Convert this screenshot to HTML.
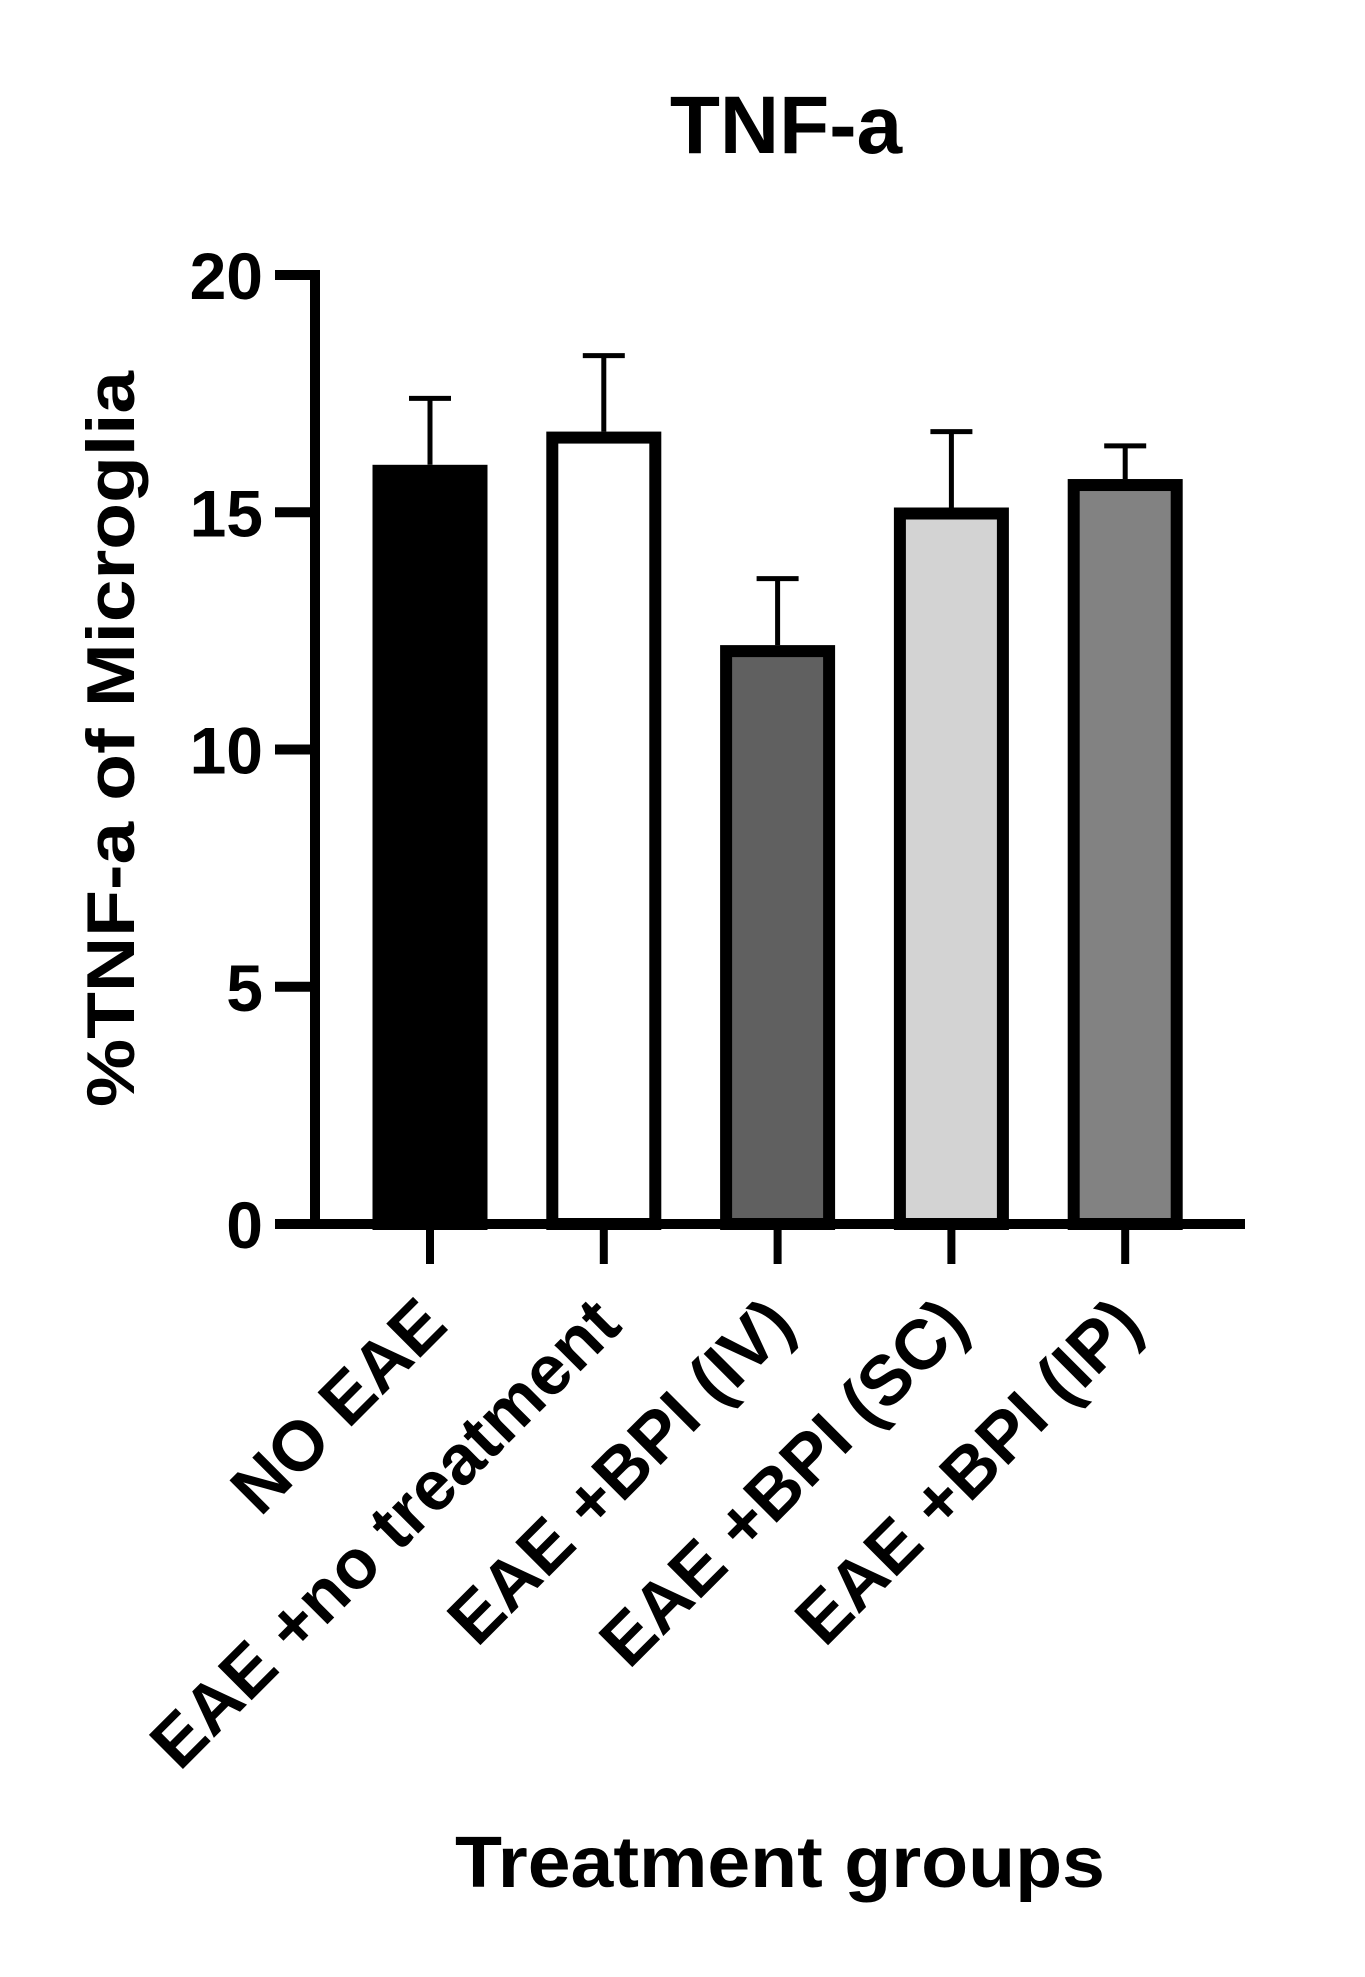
<!DOCTYPE html>
<html><head><meta charset="utf-8"><style>
html,body{margin:0;padding:0;background:#fff;}
svg{display:block;font-family:"Liberation Sans",Arial,sans-serif;font-weight:bold;}
</style></head><body>
<svg id="chart" width="1365" height="1977" viewBox="0 0 1365 1977">
<text x="786" y="153" font-size="82" text-anchor="middle">TNF-a</text>
<text transform="translate(134,739) rotate(-90)" font-size="68" text-anchor="middle" textLength="736" lengthAdjust="spacingAndGlyphs">%TNF-a of Microglia</text>
<text x="780" y="1887" font-size="72" text-anchor="middle" textLength="650" lengthAdjust="spacingAndGlyphs">Treatment groups</text>
<g id="plot"></g>
</svg>
<script>
const categories = ["NO EAE","EAE +no treatment","EAE +BPI (IV)","EAE +BPI (SC)","EAE +BPI (IP)"];
const means = [16.0, 16.7, 12.2, 15.1, 15.7];
const errors = [1.4, 1.6, 1.4, 1.6, 0.7];
const fills = ["#000000","#ffffff","#606060","#d3d3d3","#828282"];
const yTicks = [0,5,10,15,20];

const NS="http://www.w3.org/2000/svg";
const g=document.getElementById('plot');
const y0=1224, y20=275, yMax=20;
function yScale(v){return y0-(y0-y20)*v/yMax;}
const x0=430, step=173.8, barW=115;
function xScale(i){return x0+i*step;}
function mk(tag,attrs){const e=document.createElementNS(NS,tag);for(const k in attrs)e.setAttribute(k,attrs[k]);g.appendChild(e);return e;}

categories.forEach((c,i)=>{
  const cx=xScale(i), top=yScale(means[i]);
  const sw=12;
  const eTop=yScale(means[i]+errors[i]);
  const stem=mk('line',{x1:cx,x2:cx,y1:top,y2:eTop,stroke:'#000','stroke-width':5});
  
  
  const cap=mk('line',{x1:cx-21,x2:cx+21,y1:eTop,y2:eTop,stroke:'#000','stroke-width':5});
  
  
  const r=mk('rect',{x:cx-barW/2+sw/2,y:top+sw/2,width:barW-sw,height:y0-top-sw/2,fill:fills[i],stroke:'#000','stroke-width':sw});
  
  
  const t=mk('line',{x1:cx,x2:cx,y1:y0,y2:y0+40,stroke:'#000','stroke-width':8});
  
  
  const lx=cx+20, ly=1328;
  const lb=mk('text',{x:lx,y:ly,'font-size':70,'text-anchor':'end',transform:`rotate(-45 ${lx} ${ly})`});
  lb.textContent=c;
  
  
});

const ya=mk('line',{x1:315,x2:315,y1:y20-5,y2:y0+5,stroke:'#000','stroke-width':10});


const xa=mk('line',{x1:275,x2:1245,y1:y0,y2:y0,stroke:'#000','stroke-width':10});


yTicks.forEach(v=>{
  const yy=yScale(v);
  const t=mk('line',{x1:275,x2:315,y1:yy,y2:yy,stroke:'#000','stroke-width':10});
  
  
  const l=mk('text',{x:263,y:yy+24,'font-size':66,'text-anchor':'end'});
  l.textContent=v;
  
  
});
</script>
</body></html>
